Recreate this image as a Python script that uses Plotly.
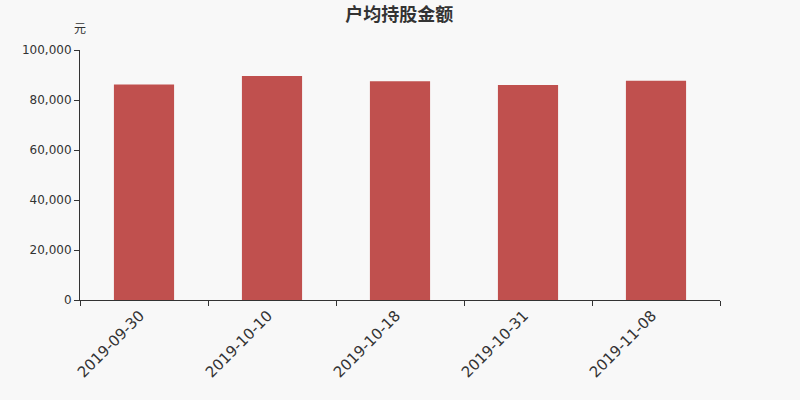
import plotly.graph_objects as go

# 户均持股金额 (元)
dates = ["2019-09-30", "2019-10-10", "2019-10-18", "2019-10-31", "2019-11-08"]
amounts = [86200, 89600, 87500, 86000, 87700]

BAR_COLOR = "#c0504e"
BG = "#f8f8f8"
AXIS_COLOR = "#333333"
FONT = "DejaVu Sans, Noto Sans CJK SC, sans-serif"

fig = go.Figure()

fig.add_trace(go.Bar(
    x=dates,
    y=amounts,
    marker=dict(color=BAR_COLOR, line=dict(width=0)),
    hovertemplate="%{x}<br>%{y:,}元<extra></extra>",
))

fig.update_layout(
    width=800,
    height=400,
    paper_bgcolor=BG,
    plot_bgcolor=BG,
    margin=dict(l=80, r=80, t=50, b=100),
    bargap=0.53,
    showlegend=False,
    font=dict(family=FONT, color=AXIS_COLOR),
    title=dict(
        text="<b>户均持股金额</b>",
        x=0.499, xanchor="center",
        y=1 - 15 / 400, yanchor="middle",
        font=dict(family="Noto Sans CJK SC", size=18, color=AXIS_COLOR),
    ),
    annotations=[dict(
        text="元", xref="paper", yref="paper",
        x=0.0, y=1.088, xanchor="center", yanchor="middle",
        showarrow=False,
        font=dict(family="Noto Sans CJK SC", size=12, color=AXIS_COLOR),
    )],
)

fig.update_xaxes(
    type="category",
    tickangle=-45,
    tickson="boundaries",
    ticks="outside",
    ticklen=5,
    tickcolor=AXIS_COLOR,
    ticklabelshift=-4,
    showline=True,
    linecolor=AXIS_COLOR,
    linewidth=1,
    showgrid=False,
    tickfont=dict(size=15, color=AXIS_COLOR),
)

fig.update_yaxes(
    range=[0, 100000],
    dtick=20000,
    tickformat=",",
    ticks="outside",
    ticklen=5,
    tickcolor=AXIS_COLOR,
    showline=True,
    linecolor=AXIS_COLOR,
    linewidth=1,
    showgrid=False,
    zeroline=False,
    tickfont=dict(size=12, color=AXIS_COLOR),
)

# drop the default page margin so the figure sits in the window corner
fig.write_html(
    "out.html",
    config={"displayModeBar": False},
    post_script="document.body.style.margin='0';document.body.style.background='%s';" % BG,
)
